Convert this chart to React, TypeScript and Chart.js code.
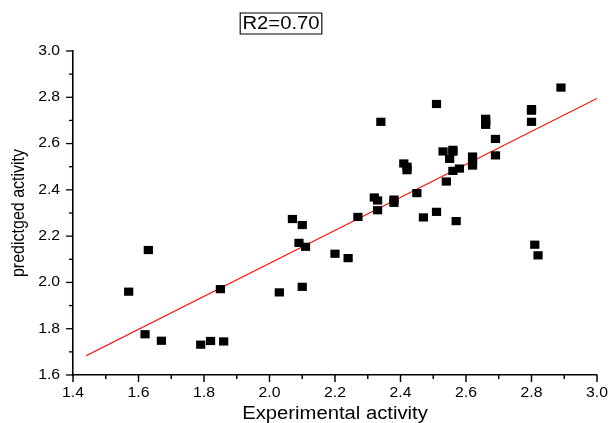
import React, { useEffect, useRef } from "react";
import { Chart, registerables } from "chart.js";

Chart.register(...registerables);

const TITLE = "R2=0.70";
const X_TITLE = "Experimental activity";
const Y_TITLE = "predictged activity";

const expX = [
  1.57, 1.63, 1.62, 1.67, 1.79, 1.82, 1.86, 1.85, 2.03, 2.10,
  2.07, 2.10, 2.09, 2.11, 2.20, 2.24, 2.27, 2.33, 2.32, 2.33,
  2.38, 2.38, 2.34, 2.89, 2.80, 2.80, 2.80, 2.66, 2.66, 2.66,
  2.51, 2.69, 2.69, 2.53, 2.56, 2.56, 2.55, 2.62, 2.62, 2.62,
  2.58, 2.56, 2.41, 2.42, 2.42, 2.54, 2.45, 2.47, 2.51, 2.57,
  2.81, 2.82,
];
const predY = [
  1.96, 2.14, 1.776, 1.748, 1.731, 1.747, 1.745, 1.971, 1.957, 1.981,
  2.274, 2.248, 2.171, 2.154, 2.124, 2.105, 2.283, 2.312, 2.367, 2.354,
  2.358, 2.344, 2.694, 2.842, 2.749, 2.742, 2.694, 2.707, 2.695, 2.681,
  2.771, 2.62, 2.549, 2.566, 2.573, 2.565, 2.534, 2.544, 2.522, 2.505,
  2.492, 2.482, 2.514, 2.50, 2.485, 2.436, 2.386, 2.281, 2.305, 2.265,
  2.163, 2.117,
];
const fitX = [1.44, 3.0];
const fitY = [1.683, 2.795];

const X_MIN = 1.4, X_MAX = 3.0, Y_MIN = 1.6, Y_MAX = 3.0, STEP = 0.2;
const FONT = '"Liberation Sans", Arial, Helvetica, sans-serif';

// the reference figure is stretched horizontally; draw in unstretched units and scale x by K
const K = 1.125;
const W = 611, H = 423;
const AXIS_LEFT = 73 / K;
const AXIS_RIGHT = 597 / K;

const stretchPlugin = {
  id: "stretch",
  beforeDraw(chart: any) {
    chart.ctx.save();
    chart.ctx.scale(K, 1);
  },
  afterDraw(chart: any) {
    const { ctx, chartArea } = chart;
    const xs = chart.scales.x;
    const ys = chart.scales.y;
    ctx.save();
    ctx.strokeStyle = "#000";
    ctx.lineWidth = 1.3;
    const xv = xs.ticks.map((t: any) => t.value);
    const yv = ys.ticks.map((t: any) => t.value);
    const drawX = (v: number, len: number) => {
      const p = xs.getPixelForValue(v);
      ctx.beginPath();
      ctx.moveTo(p, chartArea.bottom);
      ctx.lineTo(p, chartArea.bottom + len);
      ctx.stroke();
    };
    const drawY = (v: number, len: number) => {
      const p = ys.getPixelForValue(v);
      ctx.beginPath();
      ctx.moveTo(chartArea.left, p);
      ctx.lineTo(chartArea.left - len, p);
      ctx.stroke();
    };
    xv.forEach((v: number) => drawX(v, 7));
    for (let i = 0; i < xv.length - 1; i++) drawX((xv[i] + xv[i + 1]) / 2, 4);
    yv.forEach((v: number) => drawY(v, 6.2));
    for (let i = 0; i < yv.length - 1; i++) drawY((yv[i] + yv[i + 1]) / 2, 3.6);

    ctx.font = `18px ${FONT}`;
    ctx.fillStyle = "#000";
    ctx.textAlign = "center";
    ctx.textBaseline = "middle";
    const w = ctx.measureText(TITLE).width;
    const cx = 281 / K, cy = 23.5;
    ctx.lineWidth = 1;
    ctx.strokeRect(cx - w / 2 - 2, cy - 10.5, w + 4, 21);
    ctx.fillText(TITLE, cx, cy + 1);
    ctx.restore();
    chart.ctx.restore();
  },
};

export default function App() {
  const ref = useRef<HTMLCanvasElement>(null);
  useEffect(() => {
    if (!ref.current) return;
    const chart = new Chart(ref.current, {
      type: "scatter",
      data: {
        datasets: [
          {
            type: "line",
            data: fitX.map((x, i) => ({ x, y: fitY[i] })),
            borderColor: "#ff0000",
            borderWidth: 1,
            pointRadius: 0,
            fill: false,
            order: 2,
          } as any,
          {
            data: expX.map((x, i) => ({ x, y: predY[i] })),
            backgroundColor: "#000",
            borderWidth: 0,
            pointStyle: "rect",
            pointRadius: 5.8,
            order: 1,
          },
        ],
      },
      plugins: [stretchPlugin],
      options: {
        responsive: false,
        animation: false,
        layout: { autoPadding: false, padding: { top: 51, right: W - AXIS_RIGHT, bottom: 0, left: 0 } },
        plugins: { legend: { display: false }, tooltip: { enabled: false }, title: { display: false } },
        scales: {
          x: {
            type: "linear",
            min: X_MIN,
            max: X_MAX,
            afterFit: (s: any) => { s.height = 48; s.paddingLeft = 0; s.paddingRight = 0; },
            grid: { display: true, drawOnChartArea: false, drawTicks: false },
            border: { display: true, color: "#000", width: 1.5 },
            ticks: {
              stepSize: STEP,
              padding: 10,
              color: "#000",
              font: { family: FONT, size: 14 },
              callback: (v: any) => Number(v).toFixed(1),
            },
            title: {
              display: true,
              text: X_TITLE,
              color: "#000",
              font: { family: FONT, size: 18, lineHeight: 1 },
              padding: { top: 0, bottom: 0 },
            },
          },
          y: {
            type: "linear",
            min: Y_MIN,
            max: Y_MAX,
            afterFit: (s: any) => { s.width = AXIS_LEFT; s.paddingTop = 0; s.paddingBottom = 0; },
            grid: { display: true, drawOnChartArea: false, drawTicks: false },
            border: { display: true, color: "#000", width: 1.4 },
            ticks: {
              stepSize: STEP,
              padding: 11.5,
              color: "#000",
              font: { family: FONT, size: 14 },
              callback: (v: any) => Number(v).toFixed(1),
            },
            title: {
              display: true,
              text: Y_TITLE,
              color: "#000",
              font: { family: FONT, size: 16 },
              padding: { top: 7, bottom: 0 },
            },
          },
        },
      },
    });
    return () => chart.destroy();
  }, []);
  return (
    <div style={{ position: "fixed", left: 0, top: 0, width: W, height: H, background: "#fff" }}>
      <canvas ref={ref} width={W} height={H} style={{ display: "block", width: W, height: H }} />
    </div>
  );
}
